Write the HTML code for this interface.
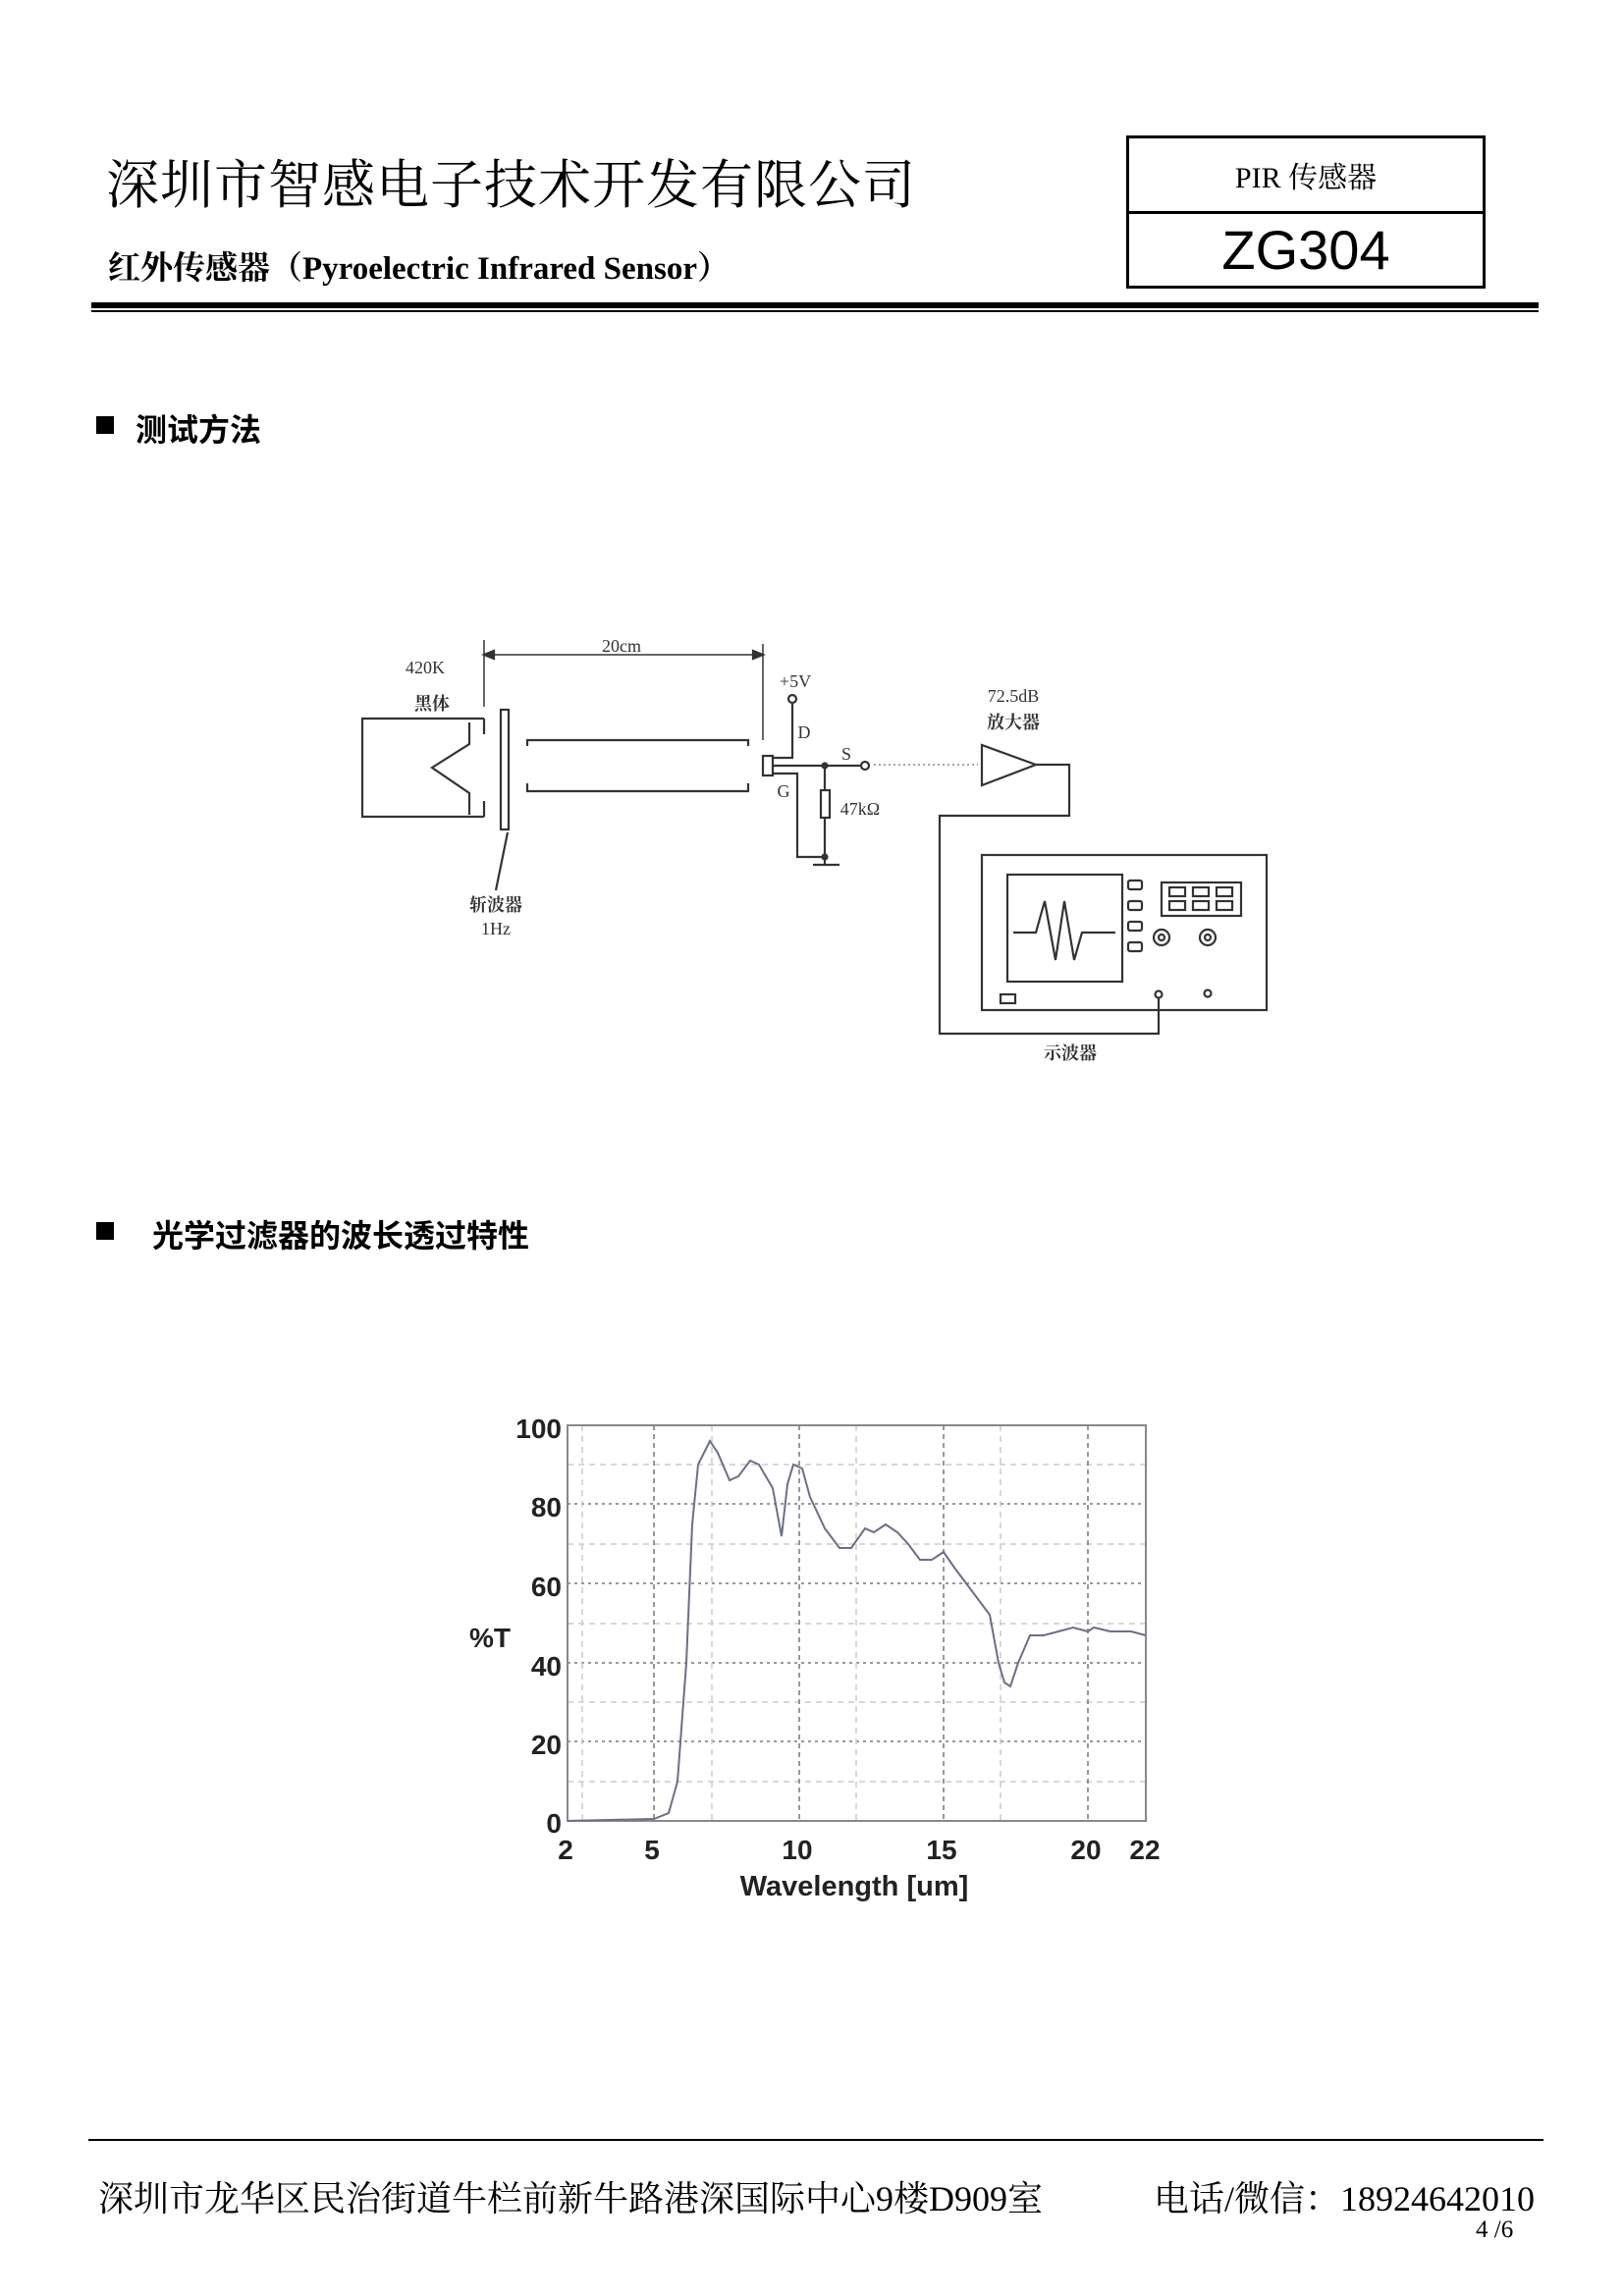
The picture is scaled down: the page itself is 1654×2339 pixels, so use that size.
<!DOCTYPE html>
<html><head><meta charset="utf-8"><style>
html,body{margin:0;padding:0;background:#fff;}
body{width:1654px;height:2339px;position:relative;overflow:hidden;font-family:"Liberation Serif","Noto Serif CJK SC",serif;color:#000;}
.a{position:absolute;white-space:nowrap;}
</style></head><body>
<div class="a" style="left:108px;top:146px;font-size:54px;font-family:'Liberation Serif','Noto Serif CJK SC',serif;letter-spacing:1px;">深圳市智感电子技术开发有限公司</div>
<div class="a" style="left:110px;top:247px;font-size:33px;font-weight:bold;">红外传感器（Pyroelectric Infrared Sensor）</div>
<div class="a" style="left:1147px;top:138px;width:360px;height:150px;border:3px solid #000;"></div>
<div class="a" style="left:1147px;top:215px;width:366px;height:3px;background:#000;"></div>
<div class="a" style="left:1147px;top:156px;width:366px;text-align:center;font-size:30px;">PIR 传感器</div>
<div class="a" style="left:1147px;top:222px;width:366px;text-align:center;font-size:56px;font-family:'Liberation Sans',sans-serif;">ZG304</div>
<div class="a" style="left:93px;top:308px;width:1474px;height:6px;background:#000;"></div>
<div class="a" style="left:93px;top:316px;width:1474px;height:2px;background:#000;"></div>
<div class="a" style="left:98px;top:424px;width:18px;height:18px;background:#000;"></div>
<div class="a" style="left:138px;top:413px;font-size:32px;font-weight:bold;font-family:'Liberation Sans','Noto Sans CJK SC',sans-serif;">测试方法</div>
<div class="a" style="left:98px;top:1245px;width:18px;height:18px;background:#000;"></div>
<div class="a" style="left:155px;top:1234px;font-size:32px;font-weight:bold;font-family:'Liberation Sans','Noto Sans CJK SC',sans-serif;">光学过滤器的波长透过特性</div>

<svg class="a" style="left:0;top:0" width="1654" height="2339" viewBox="0 0 1654 2339">
<g stroke="#333" stroke-width="2.2" fill="none" font-family="Liberation Serif,Noto Serif CJK SC,serif">
<path d="M493,732 H369 V832 H493"/>
<path d="M493,732 V748 M493,816 V832"/>
<path d="M478,736 V758 L440,782 L478,808 V830"/>
<rect x="510" y="723" width="8" height="122"/>
<path d="M517,848 L505,907"/>
<path d="M537,760 V754 H762 V760 M537,798 V806 H762 V798"/>
<path d="M493,652 V720 M777,656 V754 M493,667 H777" stroke-width="1.5"/>
<path d="M493,667 l10,-4 v8z M777,667 l-10,-4 v8z" fill="#333"/>
<rect x="777" y="770" width="10" height="20"/>
<path d="M787,772 H807 V717 M787,780 H876 M787,788 H812 V873 H840 M840,780 V805 M840,833 V873 M828,881 H855 M840,873 V881"/>
<circle cx="807" cy="712" r="4"/><circle cx="881" cy="780" r="4"/>
<circle cx="840" cy="780" r="2.5" fill="#333"/><circle cx="840" cy="873" r="2.5" fill="#333"/>
<rect x="836" y="805" width="9" height="28"/>
<path d="M890,779 H996" stroke-dasharray="2,3" stroke-width="1.5" stroke="#888"/>
<path d="M1000,759 L1000,800 L1055,779 Z"/>
<path d="M1055,779 H1089 V831 H957 V1053 H1180 V1016"/>
<rect x="1000" y="871" width="290" height="158"/>
<rect x="1026" y="891" width="117" height="109"/>
<path d="M1032,950 H1055 L1064,918 L1075,978 L1084,918 L1094,978 L1102,950 H1136"/>
<rect x="1149" y="897" width="14" height="9" rx="2"/><rect x="1149" y="918" width="14" height="9" rx="2"/><rect x="1149" y="939" width="14" height="9" rx="2"/><rect x="1149" y="960" width="14" height="9" rx="2"/>
<rect x="1183" y="899" width="81" height="34"/>
<rect x="1191" y="904" width="16" height="9"/><rect x="1215" y="904" width="16" height="9"/><rect x="1239" y="904" width="16" height="9"/>
<rect x="1191" y="918" width="16" height="9"/><rect x="1215" y="918" width="16" height="9"/><rect x="1239" y="918" width="16" height="9"/>
<circle cx="1183" cy="955" r="8"/><circle cx="1183" cy="955" r="3"/>
<circle cx="1230" cy="955" r="8"/><circle cx="1230" cy="955" r="3"/>
<rect x="1019" y="1013" width="15" height="9"/>
<circle cx="1180" cy="1013" r="3.5"/><circle cx="1230" cy="1012" r="3.5"/>
</g>
<g font-family="Liberation Serif,Noto Serif CJK SC,serif" font-size="18" fill="#333">
<text x="633" y="664" text-anchor="middle">20cm</text>
<text x="433" y="686" text-anchor="middle">420K</text>
<text x="440" y="723" text-anchor="middle" font-weight="bold">黑体</text>
<text x="810" y="700" text-anchor="middle">+5V</text>
<text x="819" y="752" text-anchor="middle">D</text>
<text x="862" y="774" text-anchor="middle">S</text>
<text x="798" y="812" text-anchor="middle">G</text>
<text x="876" y="830" text-anchor="middle">47kΩ</text>
<text x="1032" y="715" text-anchor="middle">72.5dB</text>
<text x="1032" y="742" text-anchor="middle" font-weight="bold">放大器</text>
<text x="505" y="928" text-anchor="middle" font-weight="bold">斩波器</text>
<text x="505" y="952" text-anchor="middle">1Hz</text>
<text x="1090" y="1079" text-anchor="middle" font-weight="bold">示波器</text>
</g>

<g fill="none">
<g stroke="#999" stroke-width="2" stroke-dasharray="3,4">
<path d="M578,1774H1167M578,1694H1167M578,1613H1167M578,1532H1167"/>
</g>
<g stroke="#ccc" stroke-width="1.5" stroke-dasharray="6,5">
<path d="M578,1815H1167M578,1734H1167M578,1654H1167M578,1573H1167M578,1492H1167"/>
<path d="M593,1452V1855M725,1452V1855M872,1452V1855M1019,1452V1855"/>
</g>
<g stroke="#777" stroke-width="1.5" stroke-dasharray="5,4">
<path d="M666,1452V1855M814,1452V1855M961,1452V1855M1108,1452V1855"/>
</g>
<rect x="578" y="1452" width="589" height="403" stroke="#888" stroke-width="2"/>
<polyline stroke="#6a6f88" stroke-width="2" points="578,1855 666,1853 681,1847 690,1815 699,1694 705,1553 711,1492 723,1468 731,1480 743,1508 752,1504 764,1488 773,1492 787,1516 796,1565 802,1512 808,1492 817,1496 825,1525 840,1557 855,1577 867,1577 881,1557 890,1561 902,1553 914,1561 925,1573 937,1589 949,1589 961,1581 972,1597 990,1621 1008,1645 1017,1694 1023,1714 1029,1718 1037,1694 1049,1666 1063,1666 1078,1662 1093,1658 1108,1662 1114,1658 1131,1662 1152,1662 1167,1666"/>
</g>
<g font-family="Liberation Sans,sans-serif" font-weight="bold" font-size="28" fill="#222" text-anchor="end">
<text x="572" y="1465">100</text><text x="572" y="1545">80</text><text x="572" y="1626">60</text><text x="572" y="1707">40</text><text x="572" y="1787">20</text><text x="572" y="1867">0</text>
</g>
<g font-family="Liberation Sans,sans-serif" font-weight="bold" font-size="28" fill="#222" text-anchor="middle">
<text x="576" y="1894">2</text><text x="664" y="1894">5</text><text x="812" y="1894">10</text><text x="959" y="1894">15</text><text x="1106" y="1894">20</text><text x="1166" y="1894">22</text>
<text x="870" y="1931" font-size="29">Wavelength [um]</text>
<text x="499" y="1678" font-size="28">%T</text>
</g>
</svg>

<div class="a" style="left:90px;top:2179px;width:1482px;height:2px;background:#000;"></div>
<div class="a" style="left:100px;top:2212px;font-size:36px;">深圳市龙华区民治街道牛栏前新牛路港深国际中心9楼D909室</div>
<div class="a" style="left:1175px;top:2212px;font-size:36px;">电话/微信：18924642010</div>
<div class="a" style="left:1503px;top:2258px;font-size:25px;">4 /6</div>
</body></html>
